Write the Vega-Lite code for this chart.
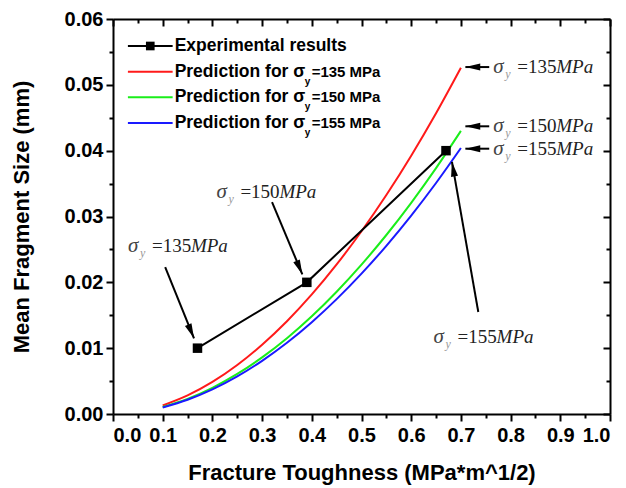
{
  "$schema": "https://vega.github.io/schema/vega-lite/v6.json",
  "width": 497,
  "height": 395,
  "autosize": {"type": "none"},
  "padding": {"left": 113, "top": 19, "right": 16, "bottom": 74},
  "background": "white",
  "datasets": {
    "pred": [
      {"k": 0.10, "y": 0.00130, "s": "135"}, {"k": 0.15, "y": 0.00282, "s": "135"}, {"k": 0.20, "y": 0.00487, "s": "135"},
      {"k": 0.25, "y": 0.00744, "s": "135"}, {"k": 0.30, "y": 0.01052, "s": "135"}, {"k": 0.35, "y": 0.01409, "s": "135"},
      {"k": 0.40, "y": 0.01816, "s": "135"}, {"k": 0.45, "y": 0.02272, "s": "135"}, {"k": 0.50, "y": 0.02776, "s": "135"},
      {"k": 0.55, "y": 0.03326, "s": "135"}, {"k": 0.60, "y": 0.03924, "s": "135"}, {"k": 0.65, "y": 0.04569, "s": "135"},
      {"k": 0.70, "y": 0.05260, "s": "135"},
      {"k": 0.10, "y": 0.00107, "s": "150"}, {"k": 0.15, "y": 0.00230, "s": "150"}, {"k": 0.20, "y": 0.00398, "s": "150"},
      {"k": 0.25, "y": 0.00608, "s": "150"}, {"k": 0.30, "y": 0.00860, "s": "150"}, {"k": 0.35, "y": 0.01152, "s": "150"},
      {"k": 0.40, "y": 0.01485, "s": "150"}, {"k": 0.45, "y": 0.01858, "s": "150"}, {"k": 0.50, "y": 0.02269, "s": "150"},
      {"k": 0.55, "y": 0.02719, "s": "150"}, {"k": 0.60, "y": 0.03208, "s": "150"}, {"k": 0.65, "y": 0.03735, "s": "150"},
      {"k": 0.70, "y": 0.04300, "s": "150"},
      {"k": 0.10, "y": 0.00100, "s": "155"}, {"k": 0.15, "y": 0.00217, "s": "155"}, {"k": 0.20, "y": 0.00374, "s": "155"},
      {"k": 0.25, "y": 0.00571, "s": "155"}, {"k": 0.30, "y": 0.00808, "s": "155"}, {"k": 0.35, "y": 0.01082, "s": "155"},
      {"k": 0.40, "y": 0.01395, "s": "155"}, {"k": 0.45, "y": 0.01745, "s": "155"}, {"k": 0.50, "y": 0.02132, "s": "155"},
      {"k": 0.55, "y": 0.02555, "s": "155"}, {"k": 0.60, "y": 0.03014, "s": "155"}, {"k": 0.65, "y": 0.03509, "s": "155"},
      {"k": 0.70, "y": 0.04040, "s": "155"}
    ],
    "exp": [
      {"k": 0.17, "y": 0.01, "s": "exp"},
      {"k": 0.39, "y": 0.02, "s": "exp"},
      {"k": 0.67, "y": 0.04, "s": "exp"}
    ],
    "ann": [
      {"x": 0.030, "y": 0.0255, "n": "=135"},
      {"x": 0.208, "y": 0.0337, "n": "=150"},
      {"x": 0.765, "y": 0.0527, "n": "=135"},
      {"x": 0.765, "y": 0.0437, "n": "=150"},
      {"x": 0.765, "y": 0.0403, "n": "=155"},
      {"x": 0.645, "y": 0.0117, "n": "=155"}
    ],
    "arrows": [
      {"x": 0.105, "y": 0.0223, "x2": 0.163, "y2": 0.0115, "dir": "down"},
      {"x": 0.320, "y": 0.0322, "x2": 0.381, "y2": 0.0212, "dir": "down"},
      {"x": 0.757, "y": 0.0527, "x2": 0.709, "y2": 0.0527, "dir": "left"},
      {"x": 0.757, "y": 0.0437, "x2": 0.709, "y2": 0.0437, "dir": "left"},
      {"x": 0.757, "y": 0.0403, "x2": 0.709, "y2": 0.0403, "dir": "left"},
      {"x": 0.735, "y": 0.0155, "x2": 0.682, "y2": 0.0383, "dir": "up"}
    ],
    "leg": [
      {"label": "Experimental results", "y": 0.0559, "s": "exp", "n": ""},
      {"label": "Prediction for σ", "y": 0.0520, "s": "135", "n": "=135 MPa"},
      {"label": "Prediction for σ", "y": 0.0481, "s": "150", "n": "=150 MPa"},
      {"label": "Prediction for σ", "y": 0.0442, "s": "155", "n": "=155 MPa"}
    ]
  },
  "layer": [
    {
      "data": {"name": "pred"},
      "mark": {"type": "line", "strokeWidth": 2, "interpolate": "monotone"},
      "encoding": {
        "x": {"field": "k", "type": "quantitative", "scale": {"domain": [0, 1], "nice": false},
          "axis": {"orient": "bottom", "values": [0, 0.1, 0.2, 0.3, 0.4, 0.5, 0.6, 0.7, 0.8, 0.9, 1.0], "format": ".1f",
            "tickSize": 7, "labelFontSize": 20, "labelPadding": 4, "title": "Fracture Toughness (MPa*m^1/2)", "titleFontSize": 22, "titlePadding": 17}},
        "y": {"field": "y", "type": "quantitative", "scale": {"domain": [0, 0.06], "nice": false, "zero": false},
          "axis": {"orient": "left", "values": [0, 0.01, 0.02, 0.03, 0.04, 0.05, 0.06], "format": ".2f",
            "tickSize": 7, "labelFontSize": 20, "labelPadding": 3, "title": "Mean Fragment Size (mm)", "titleFontSize": 22, "titlePadding": 31}},
        "color": {"field": "s", "type": "nominal", "legend": null,
          "scale": {"domain": ["exp", "135", "150", "155"], "range": ["#000000", "#ff1a1a", "#1aee1a", "#1a1aff"]}},
        "detail": {"field": "s"}
      }
    },
    {
      "data": {"name": "exp"},
      "mark": {"type": "line", "strokeWidth": 2, "color": "black"},
      "encoding": {
        "x": {"field": "k", "type": "quantitative", "scale": {"domain": [0, 1], "nice": false},
          "axis": {"orient": "bottom", "values": [0.05, 0.15, 0.25, 0.35, 0.45, 0.55, 0.65, 0.75, 0.85, 0.95], "labels": false, "domain": false, "tickSize": 4, "title": null}},
        "y": {"field": "y", "type": "quantitative", "scale": {"domain": [0, 0.06], "nice": false, "zero": false},
          "axis": {"orient": "left", "values": [0.005, 0.015, 0.025, 0.035, 0.045, 0.055], "labels": false, "domain": false, "tickSize": 4, "title": null}}
      }
    },
    {
      "data": {"name": "exp"},
      "mark": {"type": "square", "size": 90, "color": "black", "opacity": 1},
      "encoding": {
        "x": {"field": "k", "type": "quantitative", "scale": {"domain": [0, 1], "nice": false},
          "axis": {"orient": "top", "values": [0, 0.1, 0.2, 0.3, 0.4, 0.5, 0.6, 0.7, 0.8, 0.9, 1.0], "labels": false, "tickSize": -7, "title": null}},
        "y": {"field": "y", "type": "quantitative", "scale": {"domain": [0, 0.06], "nice": false, "zero": false},
          "axis": {"orient": "right", "values": [0, 0.01, 0.02, 0.03, 0.04, 0.05, 0.06], "labels": false, "tickSize": -7, "title": null}}
      }
    },
    {
      "data": {"name": "arrows"},
      "mark": {"type": "rule", "strokeWidth": 2, "color": "black"},
      "encoding": {
        "x": {"field": "x", "type": "quantitative", "scale": {"domain": [0, 1], "nice": false},
          "axis": {"orient": "top", "values": [0.05, 0.15, 0.25, 0.35, 0.45, 0.55, 0.65, 0.75, 0.85, 0.95], "labels": false, "domain": false, "tickSize": -4, "title": null}},
        "y": {"field": "y", "type": "quantitative", "scale": {"domain": [0, 0.06], "nice": false, "zero": false},
          "axis": {"orient": "right", "values": [0.005, 0.015, 0.025, 0.035, 0.045, 0.055], "labels": false, "domain": false, "tickSize": -4, "title": null}},
        "x2": {"field": "x2"},
        "y2": {"field": "y2"}
      }
    },
    {
      "data": {"name": "arrows"},
      "transform": [{"filter": "datum.dir == 'down'"}],
      "mark": {"type": "point", "shape": "M0,0L1,4.2L-1,4.2Z", "filled": true, "color": "black", "opacity": 1, "size": 50, "angle": 157},
      "encoding": {
        "x": {"field": "x2", "type": "quantitative", "axis": null},
        "y": {"field": "y2", "type": "quantitative", "axis": null}
      }
    },
    {
      "data": {"name": "arrows"},
      "transform": [{"filter": "datum.dir == 'left'"}],
      "mark": {"type": "point", "shape": "M0,0L1,4.2L-1,4.2Z", "filled": true, "color": "black", "opacity": 1, "size": 50, "angle": 270},
      "encoding": {
        "x": {"field": "x2", "type": "quantitative", "axis": null},
        "y": {"field": "y2", "type": "quantitative", "axis": null}
      }
    },
    {
      "data": {"name": "arrows"},
      "transform": [{"filter": "datum.dir == 'up'"}],
      "mark": {"type": "point", "shape": "M0,0L1,4.2L-1,4.2Z", "filled": true, "color": "black", "opacity": 1, "size": 50, "angle": 350},
      "encoding": {
        "x": {"field": "x2", "type": "quantitative", "axis": null},
        "y": {"field": "y2", "type": "quantitative", "axis": null}
      }
    },
    {
      "data": {"name": "ann"},
      "mark": {"type": "text", "text": "σ", "font": "Liberation Serif", "fontStyle": "italic", "fontSize": 21, "align": "left", "baseline": "middle", "color": "#444444"},
      "encoding": {
        "x": {"field": "x", "type": "quantitative", "axis": null},
        "y": {"field": "y", "type": "quantitative", "axis": null}
      }
    },
    {
      "data": {"name": "ann"},
      "mark": {"type": "text", "text": "y", "font": "Liberation Serif", "fontStyle": "italic", "fontSize": 12, "align": "left", "baseline": "middle", "dx": 12, "dy": 7, "color": "#999999"},
      "encoding": {
        "x": {"field": "x", "type": "quantitative", "axis": null},
        "y": {"field": "y", "type": "quantitative", "axis": null}
      }
    },
    {
      "data": {"name": "ann"},
      "mark": {"type": "text", "font": "Liberation Serif", "fontSize": 19, "align": "left", "baseline": "middle", "dx": 24, "color": "#222222"},
      "encoding": {
        "x": {"field": "x", "type": "quantitative", "axis": null},
        "y": {"field": "y", "type": "quantitative", "axis": null},
        "text": {"field": "n"}
      }
    },
    {
      "data": {"name": "ann"},
      "mark": {"type": "text", "text": "MPa", "font": "Liberation Serif", "fontStyle": "italic", "fontSize": 19, "align": "left", "baseline": "middle", "dx": 63, "color": "#222222"},
      "encoding": {
        "x": {"field": "x", "type": "quantitative", "axis": null},
        "y": {"field": "y", "type": "quantitative", "axis": null}
      }
    },
    {
      "data": {"name": "leg"},
      "mark": {"type": "rule", "strokeWidth": 2},
      "encoding": {
        "x": {"datum": 0.03, "type": "quantitative", "axis": null},
        "x2": {"datum": 0.12},
        "y": {"field": "y", "type": "quantitative", "axis": null},
        "color": {"field": "s", "type": "nominal", "legend": null}
      }
    },
    {
      "data": {"name": "leg"},
      "transform": [{"filter": "datum.s == 'exp'"}],
      "mark": {"type": "square", "size": 75, "color": "black", "opacity": 1},
      "encoding": {
        "x": {"datum": 0.075, "type": "quantitative", "axis": null},
        "y": {"field": "y", "type": "quantitative", "axis": null}
      }
    },
    {
      "data": {"name": "leg"},
      "mark": {"type": "text", "font": "Liberation Sans", "fontWeight": "bold", "fontSize": 17.5, "align": "left", "baseline": "middle", "color": "black"},
      "encoding": {
        "x": {"datum": 0.124, "type": "quantitative", "axis": null},
        "y": {"field": "y", "type": "quantitative", "axis": null},
        "text": {"field": "label"}
      }
    },
    {
      "data": {"name": "leg"},
      "transform": [{"filter": "datum.s != 'exp'"}],
      "mark": {"type": "text", "text": "y", "font": "Liberation Sans", "fontWeight": "bold", "fontSize": 10, "align": "left", "baseline": "top", "dx": 130, "dy": 5, "color": "black"},
      "encoding": {
        "x": {"datum": 0.124, "type": "quantitative", "axis": null},
        "y": {"field": "y", "type": "quantitative", "axis": null}
      }
    },
    {
      "data": {"name": "leg"},
      "transform": [{"filter": "datum.s != 'exp'"}],
      "mark": {"type": "text", "font": "Liberation Sans", "fontWeight": "bold", "fontSize": 15, "align": "left", "baseline": "middle", "dx": 137, "color": "black"},
      "encoding": {
        "x": {"datum": 0.124, "type": "quantitative", "axis": null},
        "y": {"field": "y", "type": "quantitative", "axis": null},
        "text": {"field": "n"}
      }
    }
  ],
  "resolve": {"axis": {"x": "independent", "y": "independent"}},
  "config": {
    "view": {"stroke": null},
    "axis": {
      "grid": false,
      "domainColor": "black",
      "domainWidth": 2,
      "tickColor": "black",
      "tickWidth": 2,
      "labelColor": "black",
      "titleColor": "black",
      "labelFont": "Liberation Sans",
      "titleFont": "Liberation Sans",
      "labelFontWeight": "bold",
      "titleFontWeight": "bold"
    }
  }
}
